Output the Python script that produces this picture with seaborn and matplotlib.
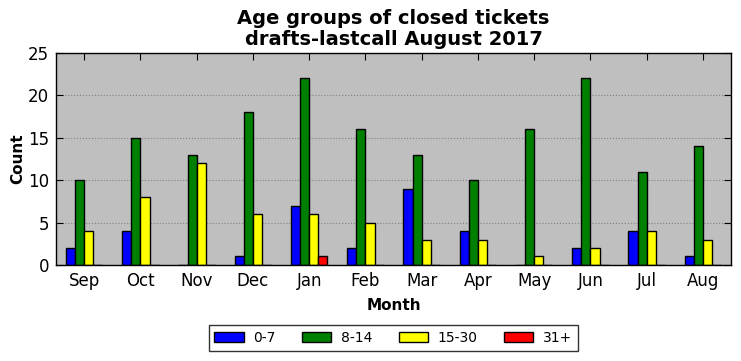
import matplotlib
matplotlib.use("Agg")
import matplotlib.pyplot as plt
import seaborn as sns
import pandas as pd

# Data
months = ['Sep', 'Oct', 'Nov', 'Dec', 'Jan', 'Feb', 'Mar', 'Apr', 'May', 'Jun', 'Jul', 'Aug']
groups = ['0-7', '8-14', '15-30', '31+']
age_0_7 = [2, 4, 0, 1, 7, 2, 9, 4, 0, 2, 4, 1]
age_8_14 = [10, 15, 13, 18, 22, 16, 13, 10, 16, 22, 11, 14]
age_15_30 = [4, 8, 12, 6, 6, 5, 3, 3, 1, 2, 4, 3]
age_31 = [0, 0, 0, 0, 1, 0, 0, 0, 0, 0, 0, 0]
colors = ['#0000ff', '#008000', '#ffff00', '#ff0000']

rows = []
for g, vals in zip(groups, [age_0_7, age_8_14, age_15_30, age_31]):
    for m, v in zip(months, vals):
        rows.append({'Month': m, 'Group': g, 'Count': v})
df = pd.DataFrame(rows)

sns.set_style("ticks")
plt.rcParams.update({
    'font.family': ['DejaVu Sans'],
    'text.color': 'black',
    'axes.labelcolor': 'black',
    'xtick.color': 'black',
    'ytick.color': 'black',
    'xtick.direction': 'in',
    'ytick.direction': 'in',
    'xtick.top': True,
    'ytick.right': True,
    'xtick.labelsize': 12,
    'ytick.labelsize': 12,
})

fig = plt.figure(figsize=(7.41, 3.61), dpi=100)
ax = fig.add_axes([0.0756, 0.266, 0.911, 0.587])
ax.set_facecolor('#bfbfbf')

sns.barplot(data=df, x='Month', y='Count', hue='Group', order=months,
            hue_order=groups, palette=colors, width=0.65, gap=0,
            edgecolor='black', linewidth=1, saturation=1, ax=ax)

ax.set_ylim(0, 25)
ax.set_yticks([0, 5, 10, 15, 20, 25])
ax.set_xlim(-0.5, 11.5)
ax.yaxis.grid(True, linestyle=':', color='#808080', linewidth=0.8)
ax.set_axisbelow(True)
for s in ax.spines.values():
    s.set_color('black')
    s.set_linewidth(1)
ax.tick_params(length=5, width=0.8, colors='black', pad=5)

ax.set_title('Age groups of closed tickets\ndrafts-lastcall August 2017',
             fontsize=14, fontweight='bold', pad=6, linespacing=1.1, color='black')
ax.set_xlabel('Month', fontsize=11, fontweight='bold', labelpad=6)
ax.set_ylabel('Count', fontsize=11, fontweight='bold', labelpad=2)

leg = ax.legend(loc='center', bbox_to_anchor=(0.5307, 0.0637), bbox_transform=fig.transFigure,
                ncol=4, frameon=True, fancybox=False, fontsize=10,
                handlelength=2.1, handletextpad=0.7, columnspacing=1.9, borderpad=0.4)
leg.get_frame().set_edgecolor('black')
leg.get_frame().set_linewidth(1)

fig.savefig('out.png', dpi=100)
